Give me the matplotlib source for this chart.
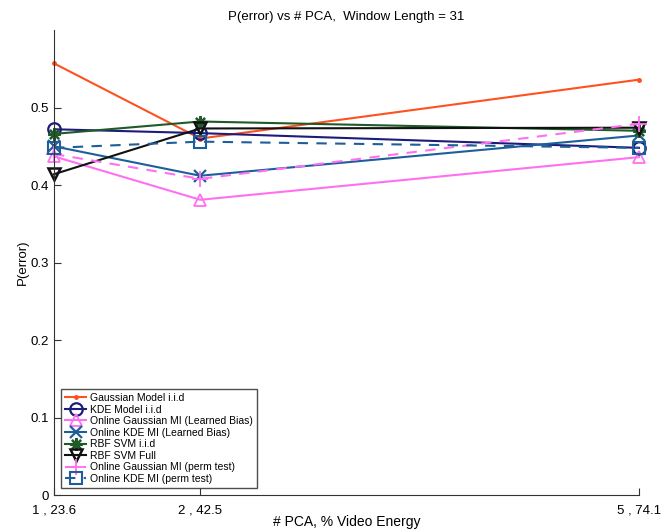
import matplotlib
matplotlib.use("Agg")
import matplotlib.pyplot as plt

plt.rcParams['font.family'] = ['Liberation Sans', 'DejaVu Sans']

# x positions (# PCA) and tick labels (# PCA, % video energy)
n_pca = [1, 2, 5]
tick_labels = ["1 , 23.6", "2 , 42.5", "5 , 74.1"]

# P(error) per method
gauss_iid = [0.557, 0.460, 0.536]
kde_iid = [0.472, 0.467, 0.448]
online_gauss_lb = [0.437, 0.381, 0.436]
online_kde_lb = [0.450, 0.412, 0.464]
rbf_iid = [0.466, 0.482, 0.470]
rbf_full = [0.414, 0.473, 0.474]
online_gauss_perm = [0.440, 0.408, 0.479]
online_kde_perm = [0.448, 0.456, 0.448]

fig = plt.figure(figsize=(6.61, 5.32), dpi=100)
ax = fig.add_axes([0.0817, 0.0695, 0.885, 0.874])

ax.plot(n_pca, gauss_iid, color='#ff5020', marker='.', ms=5, lw=1.5,
        clip_on=False, label='Gaussian Model i.i.d')
ax.plot(n_pca, kde_iid, color='#1c1c7a', marker='o', ms=9, mfc='none', mew=1.6,
        lw=1.5, clip_on=False, label='KDE Model i.i.d')
ax.plot(n_pca, online_gauss_lb, color='#ff70f0', marker='^', ms=9, mfc='none',
        mew=1.3, lw=1.5, clip_on=False, label='Online Gaussian MI (Learned Bias)')
ax.plot(n_pca, online_kde_lb, color='#1f5f99', marker='x', ms=8, mew=1.6,
        lw=1.5, clip_on=False, label='Online KDE MI (Learned Bias)')
ax.plot(n_pca, rbf_iid, color='#1f5a28', marker=(8, 2, 0), ms=9, mew=1.6,
        lw=1.5, clip_on=False, label='RBF SVM i.i.d')
ax.plot(n_pca, rbf_full, color='#111111', marker='v', ms=9, mfc='none',
        mew=1.8, lw=1.5, clip_on=False, label='RBF SVM Full')
ax.plot(n_pca, online_gauss_perm, color='#ff70f0', marker='+', ms=12, mew=1.3,
        lw=1.5, ls=(0, (5, 4)), clip_on=False, label='Online Gaussian MI (perm test)')
ax.plot(n_pca, online_kde_perm, color='#1f5f99', marker='s', ms=8, mfc='none',
        mew=1.5, lw=1.5, ls=(0, (5, 4)), clip_on=False, label='Online KDE MI (perm test)')

ax.set_xlim(1, 5)
ax.set_ylim(0, 0.6)
ax.set_xticks(n_pca)
ax.set_xticklabels(tick_labels)
ax.set_yticks([0, 0.1, 0.2, 0.3, 0.4, 0.5])
ax.set_yticklabels(['0', '0.1', '0.2', '0.3', '0.4', '0.5'])
ax.tick_params(direction='in', labelsize=9.5, length=5, color='#333333')
ax.tick_params(axis='x', pad=7)
for side in ['top', 'right']:
    ax.spines[side].set_visible(False)
for side in ['left', 'bottom']:
    ax.spines[side].set_color('#333333')

ax.set_title("P(error) vs # PCA,  Window Length = 31", fontsize=9.5, pad=7)
ax.set_xlabel("# PCA, % Video Energy", fontsize=10)
ax.xaxis.set_label_coords(0.5, -0.043)
ax.set_ylabel("P(error)", fontsize=9.5, labelpad=1)

leg = ax.legend(loc='lower left', bbox_to_anchor=(0.012, 0.015), borderaxespad=0,
                fontsize=7.5, fancybox=False, edgecolor='#222222',
                handlelength=2.0, labelspacing=0.15, borderpad=0.4,
                handletextpad=0.4)
leg.get_frame().set_linewidth(1.0)

fig.savefig("out.png", dpi=100, facecolor='white')
